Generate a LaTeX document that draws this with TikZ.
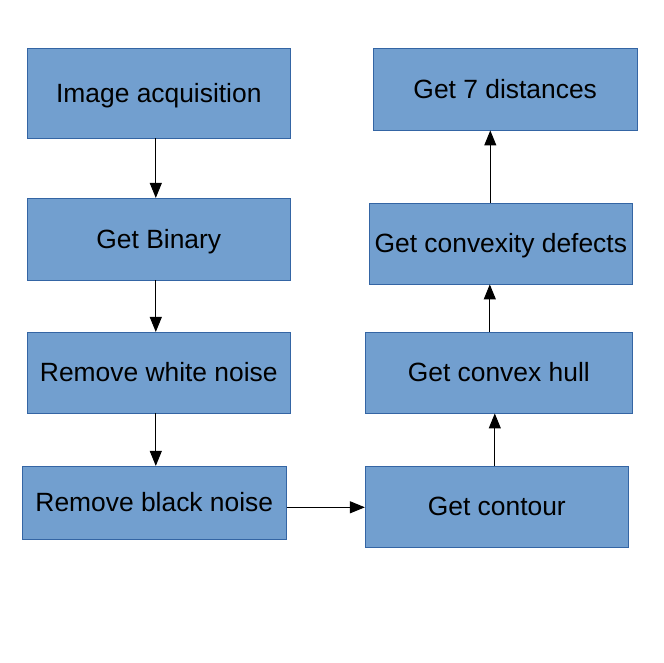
\documentclass[tikz,border=0pt]{standalone}
\usepackage{fontspec}
\setmainfont{Liberation Sans}
\usetikzlibrary{arrows.meta}
\definecolor{boxfill}{HTML}{729FCF}
\definecolor{boxline}{HTML}{3465A4}
\tikzset{
  box/.style={draw=boxline, fill=boxfill, line width=0.8pt, inner sep=0pt,
    font=\fontsize{26.4}{31}\selectfont, text=black,
    text height=23.9pt, text depth=5.6pt},
  arr/.style={draw=black, line width=1pt, -{Triangle[length=15pt,width=12pt]}}
}
\begin{document}
\begin{tikzpicture}[x=1pt,y=-1pt]
\useasboundingbox (0,0) rectangle (664,663);
\node[box, minimum width=263pt, minimum height=89.7pt] (a) at (158.8,93.2) {Image acquisition};
\node[box, minimum width=263pt, minimum height=81.7pt] (b) at (158.8,239.2) {Get Binary};
\node[box, minimum width=263pt, minimum height=80.7pt] (c) at (158.8,372.7) {Remove white noise};
\node[box, minimum width=264pt, minimum height=73pt] (d) at (154.3,502.8) {Remove black noise};
\node[box, minimum width=263pt, minimum height=81pt] (e) at (496.8,506.8) {Get contour};
\node[box, minimum width=267pt, minimum height=80.7pt] (f) at (498.8,372.7) {Get convex hull};
\node[box, minimum width=263pt, minimum height=81pt] (g) at (500.8,243.5) {Get convexity defects};
\node[box, minimum width=263.7pt, minimum height=81.7pt] (h) at (505.2,89.2) {Get 7 distances};
\draw[arr] ([xshift=-3pt]a.south) -- ([xshift=-3pt]a.south |- b.north);
\draw[arr] ([xshift=-3pt]b.south) -- ([xshift=-3pt]b.south |- c.north);
\draw[arr] ([xshift=-3pt]c.south) -- ([xshift=-3pt]c.south |- d.north);
\draw[arr] (d.east |- 0,507.3) -- (e.west |- 0,507.3);
\draw[arr] ([xshift=-2pt]e.north) -- ([xshift=-2pt]e.north |- f.south);
\draw[arr] ([xshift=-9pt]f.north) -- ([xshift=-9pt]f.north |- g.south);
\draw[arr] ([xshift=-10.5pt]g.north) -- ([xshift=-10.5pt]g.north |- h.south);
\end{tikzpicture}
\end{document}
